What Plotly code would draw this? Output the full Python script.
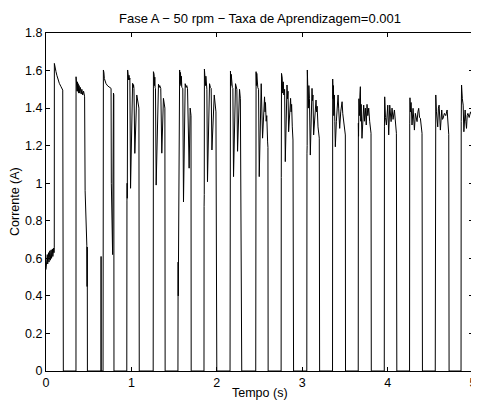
import plotly.graph_objects as go

# ---- data (tempo in s, corrente in A) ----
t_p01 = [0, 0.005, 0.01, 0.015, 0.02, 0.03, 0.035, 0.045, 0.05, 0.06, 0.065, 0.075, 0.08, 0.09, 0.094, 0.097,
         0.098, 0.105, 0.117, 0.127, 0.137, 0.156, 0.176, 0.196, 0.203]
i_p01 = [0.54, 0.60, 0.56, 0.62, 0.57, 0.63, 0.58, 0.64, 0.59, 0.645, 0.60, 0.65, 0.61, 0.655, 0.63, 0.66,
         1.638, 1.615, 1.594, 1.575, 1.558, 1.532, 1.514, 1.496, 0]

t_p02 = [0.351, 0.352, 0.356, 0.36, 0.364, 0.368, 0.372, 0.377, 0.382, 0.388, 0.395, 0.403, 0.412, 0.42, 0.43,
         0.44, 0.449, 0.452, 0.458, 0.478, 0.481, 0.483, 0.485]
i_p02 = [0, 1.567, 1.50, 1.55, 1.49, 1.54, 1.49, 1.53, 1.48, 1.52, 1.48, 1.51, 1.475, 1.50, 1.47,
         1.49, 1.47, 1.46, 0.96, 0.67, 0.45, 0.66, 0]

t_p03 = [0.644, 0.645, 0.646, 0.668, 0.672, 0.675, 0.678, 0.683, 0.69, 0.703, 0.723, 0.742, 0.762, 0.765,
         0.78, 0.79, 0.794, 0.796]
i_p03 = [0, 0.61, 0, 0, 1.603, 1.54, 1.59, 1.558, 1.545, 1.53, 1.518, 1.51, 1.505, 1.0,
         0.62, 1.48, 1.47, 0]

t_p04 = [0.946, 0.948, 0.950, 0.952, 0.956, 0.96, 0.964, 0.968, 0.972, 0.977, 0.982, 0.99, 1.014, 1.02,
         1.025, 1.03, 1.04, 1.063, 1.088, 1.092]
i_p04 = [0, 0.91, 1.0, 0.92, 1.603, 1.55, 1.59, 1.55, 1.575, 1.55, 1.56, 0.973, 1.532, 1.51,
         1.525, 1.505, 1.159, 1.47, 1.40, 0]

t_p05 = [1.255, 1.258, 1.262, 1.266, 1.27, 1.274, 1.278, 1.282, 1.29, 1.317, 1.325, 1.332, 1.344, 1.356,
         1.375, 1.392, 1.395]
i_p05 = [0, 1.594, 1.52, 1.58, 1.52, 1.565, 1.51, 1.505, 0.99, 1.527, 1.51, 1.52, 1.505, 1.16,
         1.452, 1.40, 0]

t_p06 = [1.545, 1.547, 1.549, 1.565, 1.57, 1.575, 1.58, 1.585, 1.59, 1.602, 1.61, 1.63, 1.64, 1.648, 1.657,
         1.676, 1.688, 1.698, 1.70]
i_p06 = [0, 0.58, 0.40, 1.603, 1.53, 1.59, 1.52, 1.57, 1.51, 1.505, 0.90, 1.53, 1.51, 1.52, 1.505,
         1.08, 1.40, 1.36, 0]

t_p07 = [1.850, 1.851, 1.853, 1.855, 1.86, 1.864, 1.868, 1.872, 1.876, 1.884, 1.891, 1.915, 1.925, 1.934,
         1.943, 1.97, 1.99, 2.0]
i_p07 = [0, 0.875, 0.94, 1.608, 1.53, 1.59, 1.52, 1.57, 1.51, 1.50, 1.008, 1.53, 1.51, 1.505,
         1.177, 1.47, 1.38, 0]

t_p08 = [2.155, 2.156, 2.158, 2.16, 2.165, 2.169, 2.173, 2.177, 2.182, 2.188, 2.196, 2.219, 2.227, 2.235,
         2.243, 2.266, 2.276, 2.292]
i_p08 = [0, 0.80, 0.92, 1.597, 1.52, 1.58, 1.52, 1.56, 1.51, 1.505, 1.035, 1.53, 1.51, 1.50,
         1.17, 1.50, 1.45, 0]

t_p09 = [2.456, 2.457, 2.458, 2.459, 2.46, 2.464, 2.468, 2.472, 2.476, 2.48, 2.489, 2.497, 2.52, 2.536,
         2.559, 2.565, 2.57, 2.578, 2.585, 2.595, 2.599, 2.601]
i_p09 = [0, 1.0, 1.22, 1.18, 1.594, 1.52, 1.585, 1.53, 1.57, 1.51, 1.50, 1.035, 1.53, 1.24,
         1.46, 1.38, 1.43, 1.33, 1.36, 1.22, 1.19, 0]

t_p10 = [2.753, 2.755, 2.756, 2.757, 2.758, 2.762, 2.766, 2.772, 2.778, 2.785, 2.794, 2.802, 2.822, 2.828,
         2.834, 2.841, 2.864, 2.87, 2.876, 2.884, 2.892, 2.899]
i_p10 = [0, 1.03, 1.12, 1.06, 1.585, 1.50, 1.56, 1.48, 1.54, 1.47, 1.50, 1.115, 1.523, 1.45,
         1.49, 1.274, 1.452, 1.38, 1.42, 1.30, 1.23, 0]

t_p11 = [3.054, 3.056, 3.058, 3.06, 3.064, 3.068, 3.072, 3.078, 3.085, 3.095, 3.115, 3.12, 3.126, 3.134,
         3.162, 3.168, 3.175, 3.185, 3.2, 3.204]
i_p11 = [0, 1.16, 1.20, 1.603, 1.45, 1.56, 1.40, 1.52, 1.45, 1.15, 1.505, 1.44, 1.47, 1.257,
         1.443, 1.38, 1.41, 1.30, 1.24, 0]

t_p12 = [3.355, 3.357, 3.362, 3.366, 3.370, 3.376, 3.382, 3.388, 3.40, 3.42, 3.427, 3.439, 3.451, 3.467,
         3.475, 3.486, 3.495, 3.505, 3.507]
i_p12 = [0, 1.555, 1.45, 1.52, 1.36, 1.47, 1.33, 1.194, 1.33, 1.47, 1.40, 1.292, 1.38, 1.434,
         1.37, 1.33, 1.30, 1.257, 0]

t_p13 = [3.656, 3.658, 3.660, 3.664, 3.670, 3.676, 3.681, 3.686, 3.69, 3.70, 3.71, 3.72, 3.728, 3.739,
         3.75, 3.759, 3.768, 3.779, 3.79, 3.806, 3.809]
i_p13 = [0, 1.32, 1.25, 1.45, 1.36, 1.47, 1.514, 1.33, 1.42, 1.239, 1.37, 1.416, 1.33, 1.40,
         1.31, 1.42, 1.36, 1.40, 1.33, 1.266, 0]

t_p14 = [3.961, 3.963, 3.966, 3.975, 3.986, 4.002, 4.013, 4.025, 4.033, 4.041, 4.052, 4.064, 4.080, 4.09,
         4.103, 4.108]
i_p14 = [0, 1.30, 1.46, 1.35, 1.31, 1.416, 1.257, 1.416, 1.35, 1.328, 1.40, 1.34, 1.39, 1.33,
         1.266, 0]

t_p15 = [4.257, 4.259, 4.262, 4.267, 4.275, 4.286, 4.298, 4.306, 4.314, 4.325, 4.335, 4.345, 4.355, 4.364,
         4.374, 4.384, 4.403, 4.408]
i_p15 = [0, 1.32, 1.455, 1.38, 1.43, 1.31, 1.399, 1.33, 1.283, 1.372, 1.34, 1.328, 1.38, 1.399,
         1.35, 1.346, 1.266, 0]

t_p16 = [4.558, 4.560, 4.564, 4.572, 4.587, 4.595, 4.603, 4.618, 4.634, 4.642, 4.650, 4.665, 4.681, 4.697,
         4.716, 4.72]
i_p16 = [0, 1.34, 1.47, 1.38, 1.30, 1.40, 1.416, 1.283, 1.39, 1.34, 1.346, 1.372, 1.36, 1.39,
         1.26, 0]

t_p17 = [4.860, 4.862, 4.866, 4.875, 4.885, 4.893, 4.900, 4.908, 4.916, 4.924, 4.932, 4.940, 4.955, 4.963,
         4.971, 4.987, 4.995, 5.0]
i_p17 = [0, 1.33, 1.523, 1.45, 1.416, 1.274, 1.35, 1.39, 1.33, 1.292, 1.36, 1.372, 1.35, 1.37,
         1.38, 1.36, 1.30, 1.29]

x_ticks = [0, 1, 2, 3, 4, 5]
x_labels = ["0", "1", "2", "3", "4", "5"]
y_ticks = [0, 0.2, 0.4, 0.6, 0.8, 1.0, 1.2, 1.4, 1.6, 1.8]
y_labels = ["0", "0.2", "0.4", "0.6", "0.8", "1", "1.2", "1.4", "1.6", "1.8"]

titulo = "Fase A \u2212 50 rpm \u2212 Taxa de Aprendizagem=0.001"
rotulo_x = "Tempo (s)"
rotulo_y = "Corrente (A)"

tempos = [t_p01, t_p02, t_p03, t_p04, t_p05, t_p06, t_p07, t_p08, t_p09,
          t_p10, t_p11, t_p12, t_p13, t_p14, t_p15, t_p16, t_p17]
correntes = [i_p01, i_p02, i_p03, i_p04, i_p05, i_p06, i_p07, i_p08, i_p09,
             i_p10, i_p11, i_p12, i_p13, i_p14, i_p15, i_p16, i_p17]

t_all, i_all = [], []
for tt, ii in zip(tempos, correntes):
    t_all += tt
    i_all += ii

FONT = "Liberation Sans, Arial, Helvetica, sans-serif"

fig = go.Figure()
fig.add_trace(go.Scatter(x=t_all, y=i_all, mode="lines",
                         line=dict(color="black", width=1),
                         hoverinfo="skip", showlegend=False))

# the page body has an 8px margin, so the figure is sized 8px smaller
fig.update_layout(
    width=471, height=393,
    margin=dict(l=38, r=6, t=25, b=30, pad=0, autoexpand=False),
    paper_bgcolor="white", plot_bgcolor="white",
    font=dict(family=FONT, size=12.5, color="black"),
    showlegend=False,
)
fig.update_xaxes(range=[0, 5], tickvals=x_ticks, ticktext=x_labels,
                 ticks="inside", ticklen=4, tickwidth=1, tickcolor="black",
                 showline=True, linecolor="black", linewidth=1, mirror="ticks",
                 showgrid=False, zeroline=False, automargin=False,
                 tickfont=dict(family=FONT, size=12.5, color="black"))
fig.update_yaxes(range=[0, 1.8], tickvals=y_ticks, ticktext=y_labels,
                 ticks="inside", ticklen=4, tickwidth=1, tickcolor="black",
                 showline=True, linecolor="black", linewidth=1, mirror="ticks",
                 showgrid=False, zeroline=False, automargin=False,
                 tickfont=dict(family=FONT, size=12.5, color="black"))

fig.add_annotation(text=titulo, xref="paper", yref="paper", x=0.5, y=1,
                   xanchor="center", yanchor="bottom", yshift=5, showarrow=False,
                   font=dict(family=FONT, size=13, color="black"))
fig.add_annotation(text=rotulo_x, xref="paper", yref="paper", x=0.5, y=0,
                   xanchor="center", yanchor="top", yshift=-13, showarrow=False,
                   font=dict(family=FONT, size=12.5, color="black"))
fig.add_annotation(text=rotulo_y, xref="paper", yref="paper", x=0, y=0.5,
                   xanchor="right", yanchor="middle", xshift=-22, textangle=-90,
                   showarrow=False, font=dict(family=FONT, size=12.5, color="black"))

fig.write_html("out.html")
